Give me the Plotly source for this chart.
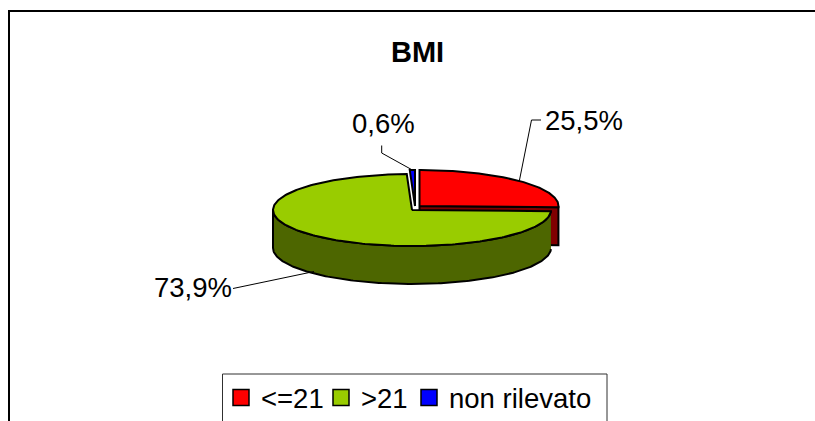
import numpy as np
import plotly.graph_objects as go

# Data
categories = ["<=21", ">21", "non rilevato"]
values = [25.5, 73.9, 0.6]
slice_colors = ["#FF0000", "#99CC00", "#0000FF"]
wall_colors = ["#800000", "#4D6600", "#000080"]
chart_title = "BMI"

# Geometry of the tilted pie, in page pixels
RX, RY, DEPTH = 139, 36, 38
CENTERS = {"<=21": (419.5, 206), ">21": (412, 210), "non rilevato": (415, 206)}
OUT = dict(color="black", width=2)

total = sum(values)
edges = np.concatenate([[0], np.cumsum(values) / total * 2 * np.pi])


def rim(cx, cy, a0, a1, n=160):
    t = np.linspace(a0, a1, n)
    return cx + RX * np.sin(t), cy - RY * np.cos(t)


def poly(x, y, color):
    return go.Scatter(x=list(x), y=list(y), mode="lines", fill="toself", fillcolor=color,
                      line=OUT, showlegend=False, hoverinfo="skip")


fig = go.Figure()

# red: cut face then top
a0, a1 = edges[0], edges[1]
cx, cy = CENTERS[categories[0]]
ex, ey = rim(cx, cy, a1, a1, 1)
fig.add_trace(poly([cx, ex[0], ex[0], cx, cx], [cy, ey[0], ey[0] + DEPTH, cy + DEPTH, cy], wall_colors[0]))
x, y = rim(cx, cy, a0, a1)
fig.add_trace(poly(np.r_[cx, x, cx], np.r_[cy, y, cy], slice_colors[0]))

# blue
a0, a1 = edges[2], edges[3]
cx, cy = CENTERS[categories[2]]
x, y = rim(cx, cy, a0, a1, 10)
fig.add_trace(poly(np.r_[cx, x, cx], np.r_[cy, y, cy], slice_colors[2]))

# green: wall then top
a0, a1 = edges[1], edges[2]
cx, cy = CENTERS[categories[1]]
x, y = rim(cx, cy, a0, 1.5 * np.pi)
fig.add_trace(poly(np.r_[x, x[::-1]], np.r_[y, y[::-1] + DEPTH], wall_colors[1]))
x, y = rim(cx, cy, a0, a1, 240)
fig.add_trace(poly(np.r_[cx, x, cx], np.r_[cy, y, cy], slice_colors[1]))

# legend entries: one legend per entry so each can sit at its own position
legend_ids = ["legend", "legend2", "legend3"]
legend_left = [221, 321, 409]
for name, col, lid in zip(categories, slice_colors, legend_ids):
    fig.add_trace(go.Scatter(x=[None], y=[None], mode="markers", name=name, legend=lid,
                             marker=dict(symbol="square", size=16, color=col,
                                         line=dict(color="black", width=1.5))))


def pct(v):
    return f"{v:.1f}".replace(".", ",") + "%"


# Leader lines, starting at each slice's bisector on its rim
mid = (edges[:-1] + edges[1:]) / 2
leader_kw = dict(mode="lines", line=dict(color="black", width=1), showlegend=False, hoverinfo="skip")

px, py = rim(*CENTERS[categories[0]], mid[0], mid[0], 1)
fig.add_trace(go.Scatter(x=[px[0], 531.5, 541], y=[py[0], 120, 120], **leader_kw))
px, py = rim(*CENTERS[categories[2]], mid[2], mid[2], 1)
fig.add_trace(go.Scatter(x=[px[0], 381.7, 381.7], y=[py[0], 153, 145.5], **leader_kw))
px, py = rim(*CENTERS[categories[1]], mid[1], mid[1], 1)
fig.add_trace(go.Scatter(x=[px[0], 233], y=[py[0] + DEPTH - 2, 288.5], **leader_kw))

FONT = "Liberation Sans, Arial, sans-serif"
labels = [(584, 120, values[0]), (383, 123, values[2]), (193, 287, values[1])]
annotations = [
    dict(x=x_, y=y_, text=pct(v), xref="x", yref="y", showarrow=False,
         font=dict(family=FONT, size=27.5, color="black"), xanchor="center", yanchor="middle")
    for x_, y_, v in labels
]
annotations.append(dict(x=417, y=52, text=f"<b>{chart_title}</b>", xref="x", yref="y", showarrow=False,
                        font=dict(family=FONT, size=29, color="black"), xanchor="center", yanchor="middle"))

frame = dict(type="line", xref="x", yref="y", line=dict(color="black", width=2))
shapes = [
    dict(frame, x0=8.5, x1=830, y0=11, y1=11),
    dict(frame, x0=9, x1=9, y0=10, y1=440),
    dict(type="rect", xref="x", yref="y", x0=222.5, x1=607, y0=374, y1=440,
         line=dict(color="#303030", width=1), fillcolor="white", layer="below"),
]

legend_layout = {
    lid: dict(orientation="h", x=left / 815, y=1 - 373 / 421, xanchor="left", yanchor="top",
              bgcolor="rgba(0,0,0,0)", borderwidth=0,
              font=dict(family=FONT, size=27.5, color="black"),
              itemwidth=30, itemclick=False, itemdoubleclick=False)
    for lid, left in zip(legend_ids, legend_left)
}

fig.update_layout(
    width=815, height=421, margin=dict(l=0, r=0, t=0, b=0, pad=0, autoexpand=False),
    paper_bgcolor="white", plot_bgcolor="white",
    xaxis=dict(range=[0, 815], visible=False, fixedrange=True),
    yaxis=dict(range=[421, 0], visible=False, fixedrange=True),
    shapes=shapes, annotations=annotations,
    showlegend=True,
    **legend_layout,
)
fig.write_html(
    "out.html",
    config={"displayModeBar": False},
    post_script=(
        "document.documentElement.style.overflow='hidden';"
        "document.body.style.margin='0';document.body.style.overflow='hidden';"
    ),
)
